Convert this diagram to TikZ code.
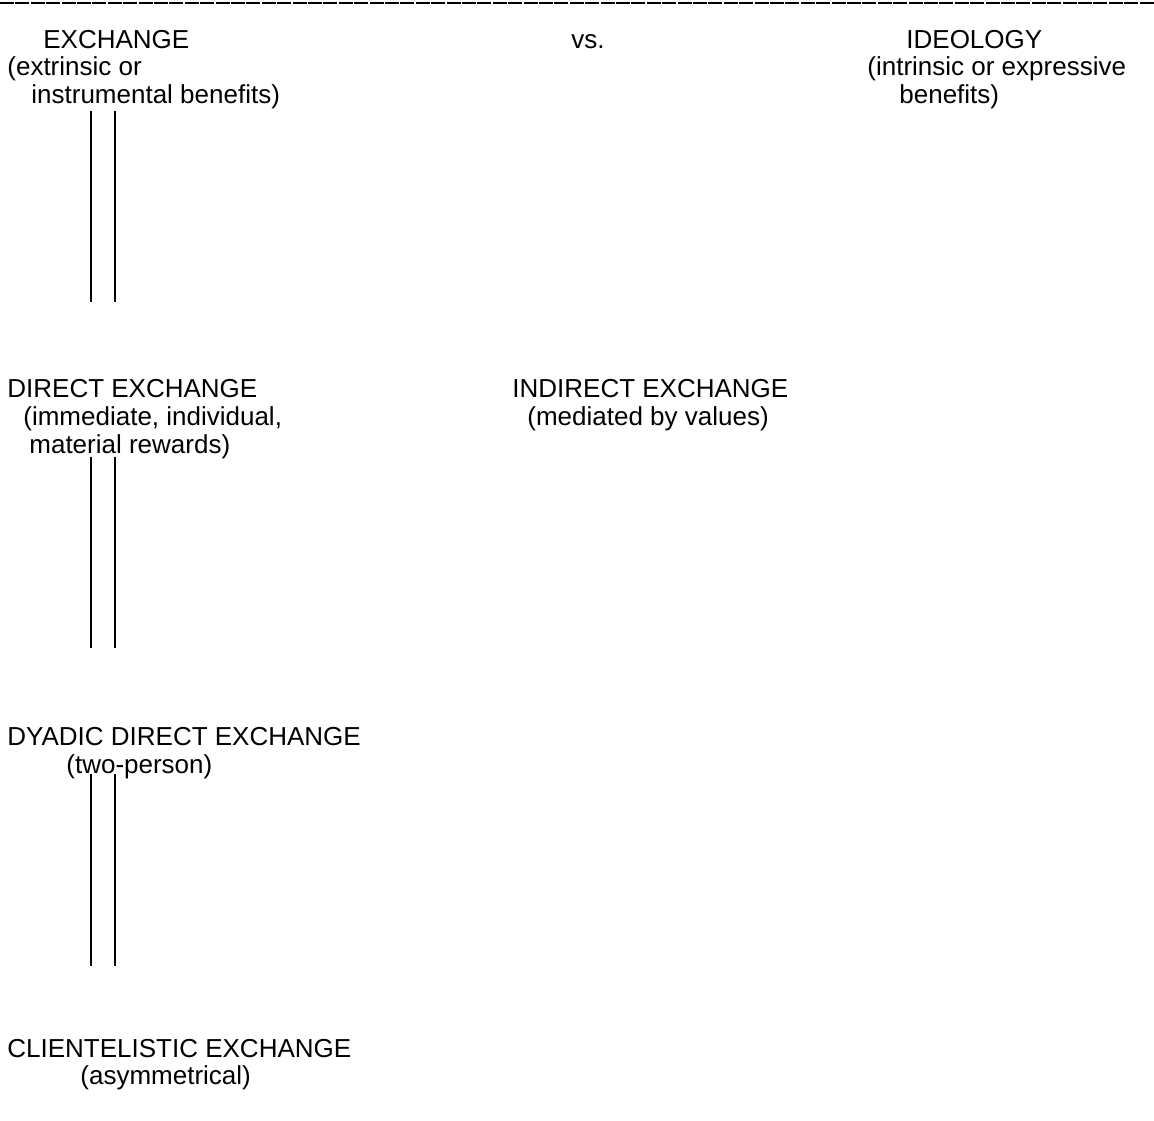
\documentclass[tikz,border=0pt]{standalone}
\usepackage{fontspec}
\setmainfont{Liberation Sans}
\usetikzlibrary{positioning}

\begin{document}
\begin{tikzpicture}[x=0.5pt,y=-0.5pt,
		every node/.style={inner sep=0pt,anchor=base west,font=\fontsize{13}{15.6}\selectfont},
		rail/.style={line width=1.25pt},
		rule/.style={line width=1pt,dash pattern=on 7pt off 0.7pt}]
			\useasboundingbox (0,0) rectangle (1154,1120);
			
			\draw[rule] (0,2.5) -- (1154,2.5);
			
			% top row
			\node (exch) at (43,48) {EXCHANGE};
			\node (exchA) at (7,75.5) {(extrinsic or};
			\node (exchB) at (31,103) {instrumental benefits)};
			
			\node (vs) at (571,48) {vs.};
			
			\node (ideo) at (906,48) {IDEOLOGY};
			\node (ideoA) at (867,75.5) {(intrinsic or expressive};
			\node (ideoB) at (899,103) {benefits)};
			
			% second row
			\node (direct) at (7,397) {DIRECT EXCHANGE};
			\node (directA) at (23,425) {(immediate, individual,};
			\node (directB) at (29,453) {material rewards)};
			
			\node (indirect) at (512,397) {INDIRECT EXCHANGE};
			\node (indirectA) at (527,425) {(mediated by values)};
			
			% third row
			\node (dyadic) at (7,745) {DYADIC DIRECT EXCHANGE};
			\node (dyadicA) at (66,773) {(two-person)};
			
			% fourth row
			\node (client) at (7,1057) {CLIENTELISTIC EXCHANGE};
			\node (clientA) at (80,1084) {(asymmetrical)};
			
			% double rails between the rows
			\foreach \top/\bot [count=\i] in {111/302,457/648,774/966}{
				\coordinate (railL\i) at (91,\top);
				\coordinate (railLend\i) at (91,\bot);
				\coordinate (railR\i) at (115,\top);
				\coordinate (railRend\i) at (115,\bot);
				\draw[rail] (railL\i) -- (railLend\i);
				\draw[rail] (railR\i) -- (railRend\i);
			}
			
		\end{tikzpicture}
\end{document}
